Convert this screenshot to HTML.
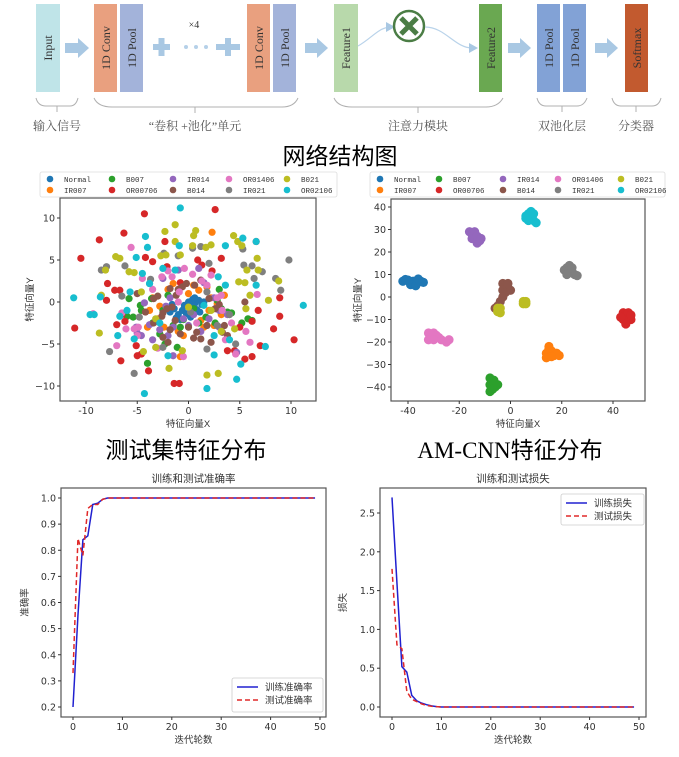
<!DOCTYPE html>
<html><head><meta charset="utf-8"><style>
body{margin:0;background:#fff;}
svg{display:block;font-family:"Liberation Sans","Noto Sans CJK SC",sans-serif;}
</style></head><body>
<svg id="fig" width="679" height="757" viewBox="0 0 679 757" xmlns="http://www.w3.org/2000/svg">
<g id="diagram">
  <rect x="36" y="4" width="24" height="88" fill="#bfe4e8"/>
  <text transform="translate(52,48) rotate(-90)" text-anchor="middle" font-family="Liberation Serif" font-size="12" fill="#333">Input</text>
  <g fill="#a9c8e3"><rect x="65" y="43" width="13" height="10"/><polygon points="78,38 89,48 78,58"/></g>
  <rect x="94" y="4" width="23" height="88" fill="#e9a07f"/>
  <text transform="translate(110,48) rotate(-90)" text-anchor="middle" font-family="Liberation Serif" font-size="12" fill="#333">1D Conv</text>
  <rect x="120" y="4" width="23" height="88" fill="#a3b3da"/>
  <text transform="translate(136,48) rotate(-90)" text-anchor="middle" font-family="Liberation Serif" font-size="12" fill="#333">1D Pool</text>
  <g fill="#a9c8e3"><rect x="153" y="44" width="17" height="6"/><rect x="158.5" y="38" width="6" height="18"/></g>
  <g fill="#b5d0e8"><circle cx="186" cy="47" r="2"/><circle cx="196" cy="47" r="2"/><circle cx="206" cy="47" r="2"/></g>
  <g fill="#a9c8e3"><rect x="216" y="44" width="24" height="6"/><rect x="225" y="38" width="6" height="18"/></g>
  <text x="194" y="28" text-anchor="middle" font-family="Liberation Serif" font-size="10" fill="#333">×4</text>
  <rect x="247" y="4" width="23" height="88" fill="#e9a07f"/>
  <text transform="translate(263,48) rotate(-90)" text-anchor="middle" font-family="Liberation Serif" font-size="12" fill="#333">1D Conv</text>
  <rect x="273" y="4" width="23" height="88" fill="#a3b3da"/>
  <text transform="translate(289,48) rotate(-90)" text-anchor="middle" font-family="Liberation Serif" font-size="12" fill="#333">1D Pool</text>
  <g fill="#a9c8e3"><rect x="305" y="43" width="12" height="10"/><polygon points="317,38 328,48 317,58"/></g>
  <rect x="334" y="4" width="24" height="88" fill="#b8d9ab"/>
  <text transform="translate(350,48) rotate(-90)" text-anchor="middle" font-family="Liberation Serif" font-size="12" fill="#333">Feature1</text>
  <path d="M358,46 C372,38 378,28 390,27" fill="none" stroke="#b9d3ea" stroke-width="1.2"/>
  <polygon points="386,22 395,27 386,32" fill="#a9c8e3"/>
  <circle cx="409" cy="26" r="15" fill="#fff" stroke="#4b7d45" stroke-width="2.5"/>
  <path d="M401,18 L417,34 M417,18 L401,34" stroke="#4b7d45" stroke-width="5" stroke-linecap="butt"/>
  <path d="M425,27 C445,27 455,48 472,48" fill="none" stroke="#b9d3ea" stroke-width="1.2"/>
  <polygon points="469,43 478,48 469,53" fill="#a9c8e3"/>
  <rect x="479" y="4" width="23" height="88" fill="#6aa851"/>
  <text transform="translate(495,48) rotate(-90)" text-anchor="middle" font-family="Liberation Serif" font-size="12" fill="#333">Feature2</text>
  <g fill="#a9c8e3"><rect x="508" y="43" width="12" height="10"/><polygon points="520,38 531,48 520,58"/></g>
  <rect x="537" y="4" width="23" height="88" fill="#82a2d6"/>
  <text transform="translate(553,48) rotate(-90)" text-anchor="middle" font-family="Liberation Serif" font-size="12" fill="#333">1D Pool</text>
  <rect x="563" y="4" width="23" height="88" fill="#82a2d6"/>
  <text transform="translate(579,48) rotate(-90)" text-anchor="middle" font-family="Liberation Serif" font-size="12" fill="#333">1D Pool</text>
  <g fill="#a9c8e3"><rect x="595" y="43" width="12" height="10"/><polygon points="607,38 618,48 607,58"/></g>
  <rect x="625" y="4" width="23" height="88" fill="#c25a2f"/>
  <text transform="translate(641,48) rotate(-90)" text-anchor="middle" font-family="Liberation Serif" font-size="12" fill="#333">Softmax</text>
  <g fill="none" stroke="#b0b0b0" stroke-width="1">
    <path d="M36,98 Q38,106 46,106 L70,106 Q76,106 78,98 M57,106 L57,112"/>
    <path d="M94,98 Q98,107 112,107 L282,107 Q294,107 298,98 M195,107 L195,113"/>
    <path d="M334,98 Q338,107 352,107 L486,107 Q498,107 503,98 M418,107 L418,113"/>
    <path d="M537,98 Q539,106 546,106 L577,106 Q584,106 587,98 M562,106 L562,112"/>
    <path d="M612,98 Q614,106 621,106 L652,106 Q659,106 661,98 M636,106 L636,112"/>
  </g>
  <g font-size="12" fill="#555" text-anchor="middle" font-family="Liberation Serif, Noto Serif CJK SC, serif">
    <text x="57" y="130">输入信号</text>
    <text x="195" y="130">“卷积 +池化”单元</text>
    <text x="418" y="130">注意力模块</text>
    <text x="562" y="130">双池化层</text>
    <text x="636" y="130">分类器</text>
  </g>
  <text x="340" y="164" text-anchor="middle" font-size="23" fill="#000">网络结构图</text>
</g>
<text x="186" y="458" text-anchor="middle" font-size="23" fill="#000">测试集特征分布</text>
<text x="510" y="458" text-anchor="middle" font-size="23" fill="#000" font-family="Liberation Serif, Noto Sans CJK SC, serif">AM-CNN<tspan font-family="Noto Sans CJK SC, sans-serif">特征分布</tspan></text>
<g id="charts"></g>
</svg>
<script>
const classNames=["Normal","IR007","B007","OR00706","IR014","B014","OR01406","IR021","B021","OR02106"];
const classColors=["#1f77b4","#ff7f0e","#2ca02c","#d62728","#9467bd","#8c564b","#e377c2","#7f7f7f","#bcbd22","#17becf"];
const testNormal=[[-1.8,-1.2],[-1.4,-0.8],[-1,-1.5],[-0.6,-1],[-0.2,-1.4],[0.2,-0.6],[0.6,-0.2],[1,0.2],[0.4,0.3],[1.3,-0.3],[-1.2,-1.9],[-0.4,-0.4],[0,0],[0.8,-0.9],[-1.6,-0.3],[0.6,0.5],[1.5,0],[-0.8,-2.1],[0.2,-1.8],[1.1,-1.2]];
const testIR007=[[-3,-2],[-2.4,-3],[2.2,0.5],[2.8,-0.2],[1.8,1.8],[-3.5,0.5],[-2,1.5],[3.2,-1.5],[0.5,2],[-1,-3.5],[1.5,-3],[-0.5,-4],[2.5,-2.8],[-3.8,-1],[1,1.4],[-1.5,2.2],[2.3,8.3],[-0.8,-6.5],[3.5,0.8],[0,1],[-4,-3],[1.2,-2.2],[2,-1],[-2.8,-0.5]];
const testB007=[[-5.4,-1.8],[-4.6,-1],[-3.5,-2.5],[-2.8,-3.8],[-1.5,-2.8],[-0.5,-2.1],[1,-2.5],[2.6,-2.5],[3.2,-0.8],[3.8,-1.2],[4.2,-1.3],[5.8,-2],[6.2,-2.2],[-6,-1.7],[-5.8,0.4],[-3.6,0.4],[-2.5,-1],[3,1.5],[2.8,0.2],[1.7,-1.8],[-4.7,-0.4],[-4,-7.3],[-1.1,-5.4],[-2.3,-5],[5.2,-2.5],[-2,0.8],[-0.8,-3],[0.5,-0.8]];
const testOR00706=[[-10.5,5.2],[-8.7,7.4],[-6.3,8.2],[-4.3,10.5],[2.6,11],[-11.1,-3.1],[-7,-2.7],[-6.6,-7],[-5,-6.4],[-4.6,-6.2],[-3.9,-8.2],[-1.4,-9.7],[-0.9,-9.7],[4.5,-5.8],[5.5,-6.8],[6.2,-6.5],[7,-5.2],[8.3,-3.2],[10.3,-4.5],[8.9,-1.7],[8.9,0.5],[6.6,7.2],[3.2,5.2],[0.9,5],[-4.2,5.3],[-2.3,7.2],[-7.9,2.2],[-7.2,1.4],[-6.7,1.4],[-8,0.2],[-6.5,-1.5],[-6.2,-2.3],[6.2,-2.3],[6.8,-1],[2.3,3.7],[-2.1,4.2],[-0.8,2.3],[-5.1,-5.2],[5,-3],[-3.5,4.8],[3.8,-5.8],[1.3,4.4]];
const testIR014=[[-5.1,-3],[-5,-3.7],[-4.6,-4],[-3.8,-2.7],[-3.5,-4.5],[-2.8,-3.3],[-2,-4],[-1.5,-3],[-2.5,2.8],[-3.8,2.2],[-1,3.8],[-0.5,-2],[0.5,-1.5],[1.2,-3.5],[2,-2],[3,-3],[3.8,-1.5],[4.7,-6],[1.5,2.3],[-1.8,0.5],[-2.2,-0.5],[0,-2.8],[3,-1],[2.5,0.5],[-4.3,-0.1],[1,4],[-1.5,-6.4]];
const testB014=[[-3.4,0.4],[-3,0.7],[-2.5,-1.3],[-2.1,-0.8],[-1.6,-0.6],[-1,1.5],[-0.6,1.8],[-0.2,2.2],[0.6,2],[1.2,2.6],[2,0.4],[2.6,-0.8],[3,-0.3],[3.5,-2.8],[3.3,-3.6],[3.8,-4],[-3.4,-2.5],[-2.6,-1.7],[-1.8,-3.3],[-0.8,-3.8],[0.5,-4.3],[1.2,-4.4],[1.8,-2.8],[-1.3,-2.2],[-2.5,-4.2],[-2,-4.8],[-1.8,1.6],[0.8,-3.6],[-4.2,-1.2],[-5,1],[2.2,-4.8],[5.5,0],[0,-3],[-1.2,0.8]];
const testOR01406=[[-9.3,-1.4],[-7,-5.2],[-6.5,-1.3],[-6.1,-3.2],[-5.6,6.5],[-5.3,-3.2],[-5,-4],[-4.5,2.8],[-3.5,1.5],[-2.6,3],[-2,3.7],[-1.6,3],[-1,0],[-0.4,4],[-0.5,-6.5],[0.8,-2.5],[1.3,2.5],[1.8,2],[2.2,3.2],[3.2,0.8],[3.3,-1],[4.2,-2.5],[4.6,-6.2],[5.6,-3.5],[6,-4.8],[6.7,0.9],[3.6,-4.5],[-4.9,-3],[-3,-5.5],[-0.9,1.2],[2.8,0.5],[0.4,3.3]];
const testIR021=[[-8.5,3.8],[-8,4.2],[-6.2,4.3],[-7.7,-5.9],[-5.3,-8.5],[-2.4,5.8],[-1,5.5],[0.4,6.4],[1.2,6.6],[2,4.6],[4,-1.5],[5.3,6.3],[5.4,4.4],[6.2,4.3],[6.4,2.8],[7.2,3.6],[8.5,2.8],[9,1.4],[9.8,5],[4.6,-5],[1.8,-5.6],[2.8,-2.8],[-2.5,-5.4],[-6.5,0.7],[-3.7,2.7],[0.2,-1.2],[1.8,1.2],[-4.8,-1.8]];
const testB021=[[-8.7,-3.7],[-8.5,0.8],[-8.1,3.8],[-7.1,5.4],[-6.7,5.2],[-5.8,3.6],[-5.3,3.5],[-4.4,-5.9],[-3.2,-5.4],[-2.7,5.5],[-2.2,5.6],[-2.3,8.4],[-1.3,9.2],[-1.3,7.2],[-0.6,-5.8],[-1.9,-7.9],[-0.8,5.6],[0.4,6.7],[0.5,7.9],[0.7,8.5],[1.7,6.5],[2.2,6.8],[1.8,-8.7],[2.9,-8.5],[4.4,7.9],[4.8,7.2],[5.2,6.7],[4.9,2.4],[5.5,2.3],[5.7,3.8],[6.7,5.2],[6.8,3.8],[7.8,0.2],[8.8,2.5],[6,0.8],[3.2,-3.5],[4.5,-3.2],[5.6,-0.8],[2.2,-1],[-4.6,1.2],[-3.2,-2],[0,-0.6]];
const testOR02106=[[-11.2,0.5],[-9.6,-1.5],[-9.2,-1.5],[-8.6,0.6],[-6.9,-4],[-6,-1],[-5.7,1.2],[-5.3,-4.4],[-5.1,5.3],[-4.2,7.8],[-4,6.5],[-4.3,-10.9],[-0.8,11.2],[-0.9,6.7],[-2.5,4],[-3.8,2.2],[1.8,-10.3],[2.5,-6.3],[4.7,-9.2],[5.1,-7.4],[5.3,7.6],[6.6,7.2],[6.6,2],[7.5,-5.3],[11.2,-0.4],[3.6,6.7],[3.6,2],[2.9,3],[-1.3,3.8],[-4.5,3.4],[-2,-6.4],[-6.7,-1.7],[4,-4.5],[2.5,-4],[1.5,-0.4],[-2.8,-2.5]];
const amNormal=[[-42,7],[-40,7.5],[-38,7],[-36,6.5],[-35,7],[-39,5.5],[-37,5],[-34,6.5],[-41,7.8],[-36,8]];
const amIR007=[[15,-23],[14,-25],[16,-24],[17,-26],[18,-25],[19,-26],[14,-27],[15,-22],[16,-26.5]];
const amB007=[[-8,-36],[-7,-38],[-8,-39],[-7,-41],[-6,-40],[-5,-39],[-8,-42],[-6.5,-37]];
const amOR00706=[[44,-7],[45,-8],[46,-9],[47,-10],[45,-11],[44,-9],[46,-7],[47,-8],[45,-12],[44,-10],[43,-9]];
const amIR014=[[-16,29],[-15,28],[-14,26],[-13,24],[-12,25],[-14,29],[-15,26],[-13,27],[-11.5,26]];
const amB014=[[-3,6],[-2,5],[-1,4],[-3,3],[-2,2],[-3,0],[-4,-2],[-5,-4],[-6,-5],[0,3],[-1,6]];
const amOR01406=[[-32,-16],[-31,-18],[-30,-16],[-29,-17],[-28,-18],[-27,-19],[-25,-20],[-32,-19],[-30,-19],[-24,-19]];
const amIR021=[[21,12],[22,13],[23,12],[24,11],[25,10],[23,14],[22,10],[26,9.5],[24,13]];
const amB021=[[-5,-5],[-4,-7],[-5,-6.5],[-4,-5],[5,-2],[6,-3],[5,-3],[6,-2]];
const amOR02106=[[6,36],[7,37],[8,38],[8,35],[9,34],[10,33],[6,35],[7,34],[9,37]];
const leftXTicks=[-10,-5,0,5,10];
const leftYTicks=[-10,-5,0,5,10];
const rightXTicks=[-40,-20,0,20,40];
const rightYTicks=[-40,-30,-20,-10,0,10,20,30,40];
const epochs=[0,1,2,3,4,5,6,7,8,9,10,11,12,13,14,15,16,17,18,19,20,21,22,23,24,25,26,27,28,29,30,31,32,33,34,35,36,37,38,39,40,41,42,43,44,45,46,47,48,49];
const trainAcc=[0.2,0.55,0.84,0.855,0.975,0.98,0.995,1,1,1,1,1,1,1,1,1,1,1,1,1,1,1,1,1,1,1,1,1,1,1,1,1,1,1,1,1,1,1,1,1,1,1,1,1,1,1,1,1,1,1];
const testAcc=[0.33,0.845,0.78,0.96,0.975,0.975,0.995,1,1,1,1,1,1,1,1,1,1,1,1,1,1,1,1,1,1,1,1,1,1,1,1,1,1,1,1,1,1,1,1,1,1,1,1,1,1,1,1,1,1,1];
const trainLoss=[2.7,1.6,0.52,0.45,0.15,0.08,0.05,0.03,0.015,0.005,0,0,0,0,0,0,0,0,0,0,0,0,0,0,0,0,0,0,0,0,0,0,0,0,0,0,0,0,0,0,0,0,0,0,0,0,0,0,0,0];
const testLoss=[1.78,0.8,0.75,0.2,0.1,0.07,0.04,0.02,0.01,0.005,0,0,0,0,0,0,0,0,0,0,0,0,0,0,0,0,0,0,0,0,0,0,0,0,0,0,0,0,0,0,0,0,0,0,0,0,0,0,0,0];
const accYTicks=[0.2,0.3,0.4,0.5,0.6,0.7,0.8,0.9,1.0];
const lossYTicks=[0,0.5,1.0,1.5,2.0,2.5];
const epochTicks=[0,10,20,30,40,50];

const NS="http://www.w3.org/2000/svg";
const root=document.getElementById('charts');
function mk(tag,attrs,parent){const e=document.createElementNS(NS,tag);for(const k in attrs)e.setAttribute(k,attrs[k]);(parent||root).appendChild(e);return e;}
function lin(d0,d1,r0,r1){return v=>r0+(v-d0)*(r1-r0)/(d1-d0);}

function axes(g,box,xs,ys,xt,yt,fmtY,xLabel,yLabel,yLabelX){
  const r=mk('rect',{x:box.x0,y:box.y0,width:box.x1-box.x0,height:box.y1-box.y0,fill:'none',stroke:'#555','stroke-width':1.2},g);
  
  
  xt.forEach(v=>{const x=xs(v);
    const l=mk('line',{x1:x,x2:x,y1:box.y1,y2:box.y1+3,stroke:'#333'},g);
    
    
    const t=mk('text',{x:x,y:box.y1+13,'text-anchor':'middle','font-size':9.5,fill:'#333','font-family':'DejaVu Sans, sans-serif'},g);t.textContent=v;
    
    });
  yt.forEach(v=>{const y=ys(v);
    const l=mk('line',{x1:box.x0-3,x2:box.x0,y1:y,y2:y,stroke:'#333'},g);
    
    
    const t=mk('text',{x:box.x0-5,y:y+3.5,'text-anchor':'end','font-size':9.5,fill:'#333','font-family':'DejaVu Sans, sans-serif'},g);t.textContent=fmtY(v);
    
    });
  const xl=mk('text',{x:(box.x0+box.x1)/2,y:box.y1+26,'text-anchor':'middle','font-size':9.5,fill:'#333'},g);xl.textContent=xLabel;
  
  
  const cy=(box.y0+box.y1)/2;
  const yl=mk('text',{x:yLabelX,y:cy,'text-anchor':'middle','font-size':9.5,fill:'#333',transform:`rotate(-90 ${yLabelX} ${cy})`},g);yl.textContent=yLabel;
  
  
}

function scatterPanel(name,box,dom,sets,xt,yt,legend,yLabelX){
  const g=mk('g',{});
  
  
  const xs=lin(dom.x0,dom.x1,dom.px0,dom.px1), ys=lin(dom.y0,dom.y1,dom.py0,dom.py1);
  sets.forEach((pts,ci)=>{pts.forEach(p=>{
    const c=mk('circle',{cx:xs(p[0]),cy:ys(p[1]),r:dom.r,fill:classColors[ci]},g);
    
    });});
  axes(g,box,xs,ys,xt,yt,v=>String(v).replace('-','−'),'特征向量X','特征向量Y',yLabelX);
  const lg=mk('g',{},g);
  
  
  const lr=mk('rect',{x:legend.x0,y:legend.y0,width:legend.x1-legend.x0,height:legend.y1-legend.y0,fill:'#fff',stroke:'#ddd','stroke-width':0.8,rx:2},lg);
  
  
  classNames.forEach((n,i)=>{const col=Math.floor(i/2),row=i%2;
    const mx=legend.cols[col], my=legend.rows[row];
    const c=mk('circle',{cx:mx,cy:my,r:3.3,fill:classColors[i]},lg);
    
    
    const t=mk('text',{x:mx+14,y:my+3,'font-size':7.5,fill:'#333','font-family':'Liberation Mono, monospace'},lg);t.textContent=n;
    
    });
}

scatterPanel('test-feature-scatter',{x0:60,y0:198,x1:316,y1:401},
  {x0:-10,x1:10,px0:86,px1:291,y0:10,y1:-10,py0:218,py1:386,r:3.6},
  [testNormal,testIR007,testB007,testOR00706,testIR014,testB014,testOR01406,testIR021,testB021,testOR02106],
  leftXTicks,leftYTicks,{x0:40,y0:172,x1:337,y1:197,cols:[50,112,173,229,287],rows:[179,190]},33);
scatterPanel('amcnn-feature-scatter',{x0:391,y0:199,x1:645,y1:401},
  {x0:-40,x1:40,px0:408,px1:613,y0:40,y1:-40,py0:207,py1:387,r:4.6},
  [amNormal,amIR007,amB007,amOR00706,amIR014,amB014,amOR01406,amIR021,amB021,amOR02106],
  rightXTicks,rightYTicks,{x0:370,y0:172,x1:665,y1:197,cols:[380,439,503,558,621],rows:[179,190]},361);

function linePanel(name,box,dom,train,test,yt,fmt,title,yLabel,yLabelX,leg,labels){
  const g=mk('g',{});
  
  
  const xs=lin(0,50,dom.px0,dom.px1), ys=lin(dom.y0,dom.y1,dom.py0,dom.py1);
  axes(g,box,xs,ys,epochTicks,yt,fmt,'迭代轮数',yLabel,yLabelX);
  const tt=mk('text',{x:(box.x0+box.x1)/2,y:box.y0-6,'text-anchor':'middle','font-size':10.5,fill:'#333'},g);tt.textContent=title;
  
  
  const p1=mk('polyline',{points:epochs.map((e,i)=>xs(e)+','+ys(train[i])).join(' '),fill:'none',stroke:'#2020d0','stroke-width':1.5},g);
  
  
  const p2=mk('polyline',{points:epochs.map((e,i)=>xs(e)+','+ys(test[i])).join(' '),fill:'none',stroke:'#e02828','stroke-width':1.5,'stroke-dasharray':'5,3'},g);
  
  
  const lg=mk('g',{},g);
  
  
  const lr=mk('rect',{x:leg.x0,y:leg.y0,width:leg.x1-leg.x0,height:leg.y1-leg.y0,fill:'#fff',stroke:'#ccc','stroke-width':0.8,rx:2},lg);
  
  
  [['#2020d0',''],['#e02828','5,3']].forEach((s,i)=>{const y=leg.y0+9+i*13;
    const l=mk('line',{x1:leg.x0+5,x2:leg.x0+26,y1:y,y2:y,stroke:s[0],'stroke-width':1.5,'stroke-dasharray':s[1]},lg);
    
    
    const t=mk('text',{x:leg.x0+33,y:y+3.5,'font-size':9.5,fill:'#333'},lg);t.textContent=labels[i];
    
    });
}
linePanel('accuracy-chart',{x0:61,y0:488,x1:326,y1:717},{px0:73,px1:320,y0:1.0,y1:0.2,py0:498,py1:707},
  trainAcc,testAcc,accYTicks,v=>v.toFixed(1),'训练和测试准确率','准确率',28,{x0:232,y0:678,x1:323,y1:712},['训练准确率','测试准确率']);
linePanel('loss-chart',{x0:380,y0:488,x1:646,y1:717},{px0:392,px1:639,y0:2.5,y1:0,py0:513,py1:707},
  trainLoss,testLoss,lossYTicks,v=>v.toFixed(1),'训练和测试损失','损失',346,{x0:561,y0:494,x1:644,y1:525},['训练损失','测试损失']);
</script>
</body></html>
